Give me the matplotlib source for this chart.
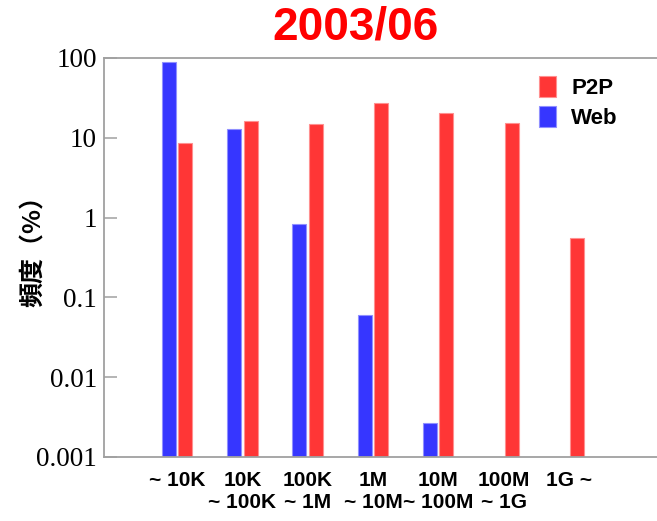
import numpy as np
import matplotlib.pyplot as plt

# values (percent, log scale)
categories = ["~ 10K", "10K\n~ 100K", "100K\n~ 1M", "1M\n~ 10M", "10M\n~ 100M", "100M\n~ 1G", "1G ~"]
p2p = [8.7, 16.3, 14.7, 27.0, 20.4, 15.2, 0.56]
web = [90.0, 12.8, 0.84, 0.06, 0.0027, np.nan, np.nan]
yticks = [0.001, 0.01, 0.1, 1, 10, 100]
yticklabels = ["0.001", "0.01", "0.1", "1", "10", "100"]

fig = plt.figure(figsize=(6.57, 5.21), dpi=100)
ax = fig.add_axes([104 / 657, 64 / 521, 1 - 104 / 657, (457 - 58) / 521])

x = np.arange(len(categories))
w = 0.214
off = 0.126
base = 0.001
web_h = [v - base if not np.isnan(v) else np.nan for v in web]
p2p_h = [v - base for v in p2p]

ax.bar(x - off, web_h, w, bottom=base, color="#3636ff", edgecolor="#9090ff",
       linewidth=0.8, label="Web")
ax.bar(x + off, p2p_h, w, bottom=base, color="#ff3636", edgecolor="#ff9090",
       linewidth=0.8, label="P2P")

ax.set_yscale("log")
ax.set_ylim(0.001, 100)
ax.set_xlim(-1.118, 7.35)

ax.set_yticks(yticks)
ax.set_yticklabels(yticklabels, family="Liberation Serif", fontsize=19.5)
ax.yaxis.set_minor_locator(plt.NullLocator())
ax.tick_params(axis="y", direction="in", length=9, width=1.1, color="#a0a0a0", pad=5)

ax.set_xticks(x)
ax.set_xticklabels(categories, family="Liberation Sans",
                   fontsize=15, fontweight="bold", linespacing=1.2)
ax.tick_params(axis="x", length=0, pad=10)

for s in ["left", "top", "bottom"]:
    ax.spines[s].set_color("#a0a0a0")
    ax.spines[s].set_linewidth(1.3)
ax.spines["right"].set_visible(False)

ax.set_ylabel("頻度（%）", family=["Noto Sans CJK JP", "DejaVu Sans"],
              fontsize=18, fontweight="bold")
ax.yaxis.set_label_coords(-0.106, 0.531)

handles, labels = ax.get_legend_handles_labels()
leg = ax.legend(handles[::-1], labels[::-1], loc="upper right",
                bbox_to_anchor=(0.965, 1.005), frameon=False,
                prop={"family": "Liberation Sans", "weight": "bold", "size": 16},
                handlelength=0.75, handleheight=1.1, handletextpad=0.7,
                labelspacing=0.3)

fig.text(355 / 657, 1 - 27 / 521, "2003/06", color="#ff0000", fontsize=33,
         fontweight="bold", family="Liberation Sans", ha="center", va="center")

fig.savefig("out.png", dpi=100)
